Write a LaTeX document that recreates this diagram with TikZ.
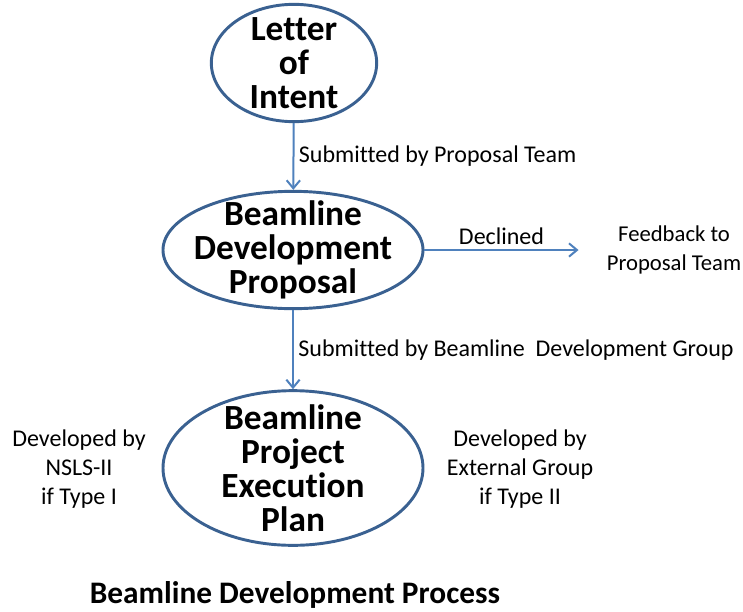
\documentclass[tikz,border=0pt]{standalone}
\usepackage{fontspec}
\setmainfont{Carlito}[Ligatures=CommonOff]
\usetikzlibrary{positioning,shapes.geometric,arrows.meta}

\definecolor{rim}{HTML}{3A6191}
\definecolor{flow}{HTML}{4F81BD}

\begin{document}
\begin{tikzpicture}[
x=0.75pt, y=-0.75pt,
stage/.style={ellipse, draw=rim, line width=2.2pt, inner sep=0pt},
stagetext/.style={align=center, inner sep=0pt, font=\fontsize{26.5}{25.5}\selectfont\bfseries},
note/.style={align=center, text=black, font=\fontsize{18}{21.5}\selectfont},
>={Straight Barb[length=6pt, width=10pt]}
]
\useasboundingbox (0,0) rectangle (743,611);

\node (loi) [stage, minimum width=124pt, minimum height=88pt,
  label={[stagetext]center:Letter\\of\\Intent}] at (294,63) {};

\node (bdp) [stage, minimum width=195pt, minimum height=88pt,
  label={[stagetext]center:Beamline\\Development\\Proposal}] at (293,250) {};

\node (pep) [stage, minimum width=195pt, minimum height=116pt,
  label={[stagetext]center:Beamline\\Project\\Execution\\Plan}] at (293,468) {};

\node (fb) [note, font=\fontsize{17}{21.5}\selectfont, inner xsep=21pt] at (674,250) {Feedback to\\Proposal Team};

\node (type1) [note] at (79,469) {Developed by\\NSLS-II\\if Type I};
\node (type2) [note] at (520,469) {Developed by\\External Group\\if Type II};

\node (title) [font=\fontsize{23.5}{26}\selectfont\bfseries] at (295,595) {Beamline Development Process};

\draw[->, flow, line width=1.5pt] (loi) -- (bdp) node[note, midway, right] {Submitted by Proposal Team};
\draw[->, flow, line width=1.5pt] (bdp) -- (pep) node[note, midway, right] {Submitted by Beamline\ \ Development Group};
\draw[->, flow, line width=1.5pt] (bdp) -- (fb) node[note, midway, above] {Declined};

\end{tikzpicture}
\end{document}
